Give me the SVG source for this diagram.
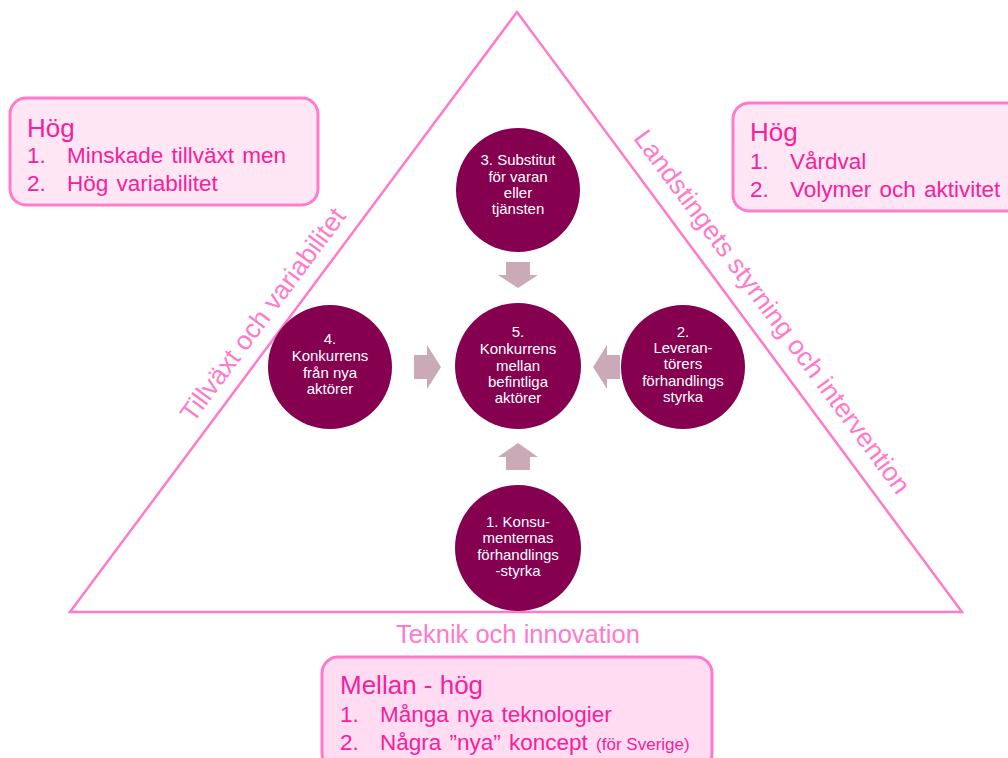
<svg xmlns="http://www.w3.org/2000/svg" width="1008" height="758" viewBox="0 0 1008 758">
<style>
.box{fill:#FFE6F5;stroke:#FF7ACB;stroke-width:3}
.bt{font-family:"Liberation Sans",Arial,sans-serif;fill:#F5219A}
.h{font-size:26px}
.li{font-size:22.5px;word-spacing:2px}
.side{font-family:"Liberation Sans",Arial,sans-serif;fill:#FF7ACB;font-size:26.5px;text-anchor:middle}
.node circle{fill:#85004F}
.node text{font-family:"Liberation Sans",Arial,sans-serif;fill:#fff;font-size:15px;text-anchor:middle}
.arr{fill:#C9AAB6}
</style>
<rect width="1008" height="758" fill="#fff"/>
<polygon points="517,12 70,612 962,612" fill="none" stroke="#FF7ACB" stroke-width="2.5"/>
<text class="side" x="518" y="643" style="font-size:25.5px">Teknik och innovation</text>
<text class="side" transform="translate(270,320) rotate(-53.5)">Tillväxt och variabilitet</text>
<text class="side" transform="translate(765,317) rotate(53.5)">Landstingets styrning och intervention</text>

<g id="box-left">
<rect class="box" x="10" y="98" width="308" height="107" rx="16"/>
<text class="bt h" x="27" y="137">Hög</text>
<text class="bt li" x="27" y="163">1.</text><text class="bt li" x="67" y="163">Minskade tillväxt men</text>
<text class="bt li" x="27" y="191">2.</text><text class="bt li" x="67" y="191">Hög variabilitet</text>
</g>
<g id="box-right">
<rect class="box" x="733" y="103" width="290" height="108" rx="16"/>
<text class="bt h" x="750" y="141">Hög</text>
<text class="bt li" x="750" y="169">1.</text><text class="bt li" x="790" y="169">Vårdval</text>
<text class="bt li" x="750" y="197">2.</text><text class="bt li" x="790" y="197">Volymer och aktivitet</text>
</g>
<g id="box-bottom">
<rect class="box" x="322" y="657" width="390" height="112" rx="16" style="fill:#FFDCF1"/>
<text class="bt h" x="340" y="694">Mellan - hög</text>
<text class="bt li" x="340" y="722">1.</text><text class="bt li" x="380" y="722">Många nya teknologier</text>
<text class="bt li" x="340" y="750">2.</text><text class="bt li" x="380" y="750">Några ”nya” koncept <tspan style="font-size:17px;word-spacing:0">(för Sverige)</tspan></text>
</g>

<g id="connectors">
<polygon class="arr" points="506,262 530,262 530,275 538,275 518,288 498,275 506,275"/>
<polygon class="arr" points="414,355 427,355 427,345 441,367 427,389 427,379 414,379"/>
<polygon class="arr" points="620,355 607,355 607,345 593,367 607,389 607,379 620,379"/>
<polygon class="arr" points="506,470 530,470 530,457 538,457 518,443 498,457 506,457"/>
</g>

<g id="n3" class="node"><circle cx="518" cy="190" r="62"/>
<text x="518" y="165">3. Substitut</text><text x="518" y="182">för varan</text><text x="518" y="198">eller</text><text x="518" y="214">tjänsten</text></g>
<g id="n4" class="node"><circle cx="330" cy="367" r="62"/>
<text x="330" y="344">4.</text><text x="330" y="361">Konkurrens</text><text x="330" y="378">från nya</text><text x="330" y="394">aktörer</text></g>
<g id="n5" class="node"><circle cx="518" cy="366" r="63"/>
<text x="518" y="337">5.</text><text x="518" y="354">Konkurrens</text><text x="518" y="371">mellan</text><text x="518" y="387">befintliga</text><text x="518" y="403">aktörer</text></g>
<g id="n2" class="node"><circle cx="683" cy="367" r="62"/>
<text x="683" y="337">2.</text><text x="683" y="353">Leveran-</text><text x="683" y="369">törers</text><text x="683" y="386">förhandlings</text><text x="683" y="402">styrka</text></g>
<g id="n1" class="node"><circle cx="518" cy="548" r="63"/>
<text x="518" y="527">1. Konsu-</text><text x="518" y="543">menternas</text><text x="518" y="560">förhandlings</text><text x="518" y="576">-styrka</text></g>
</svg>
